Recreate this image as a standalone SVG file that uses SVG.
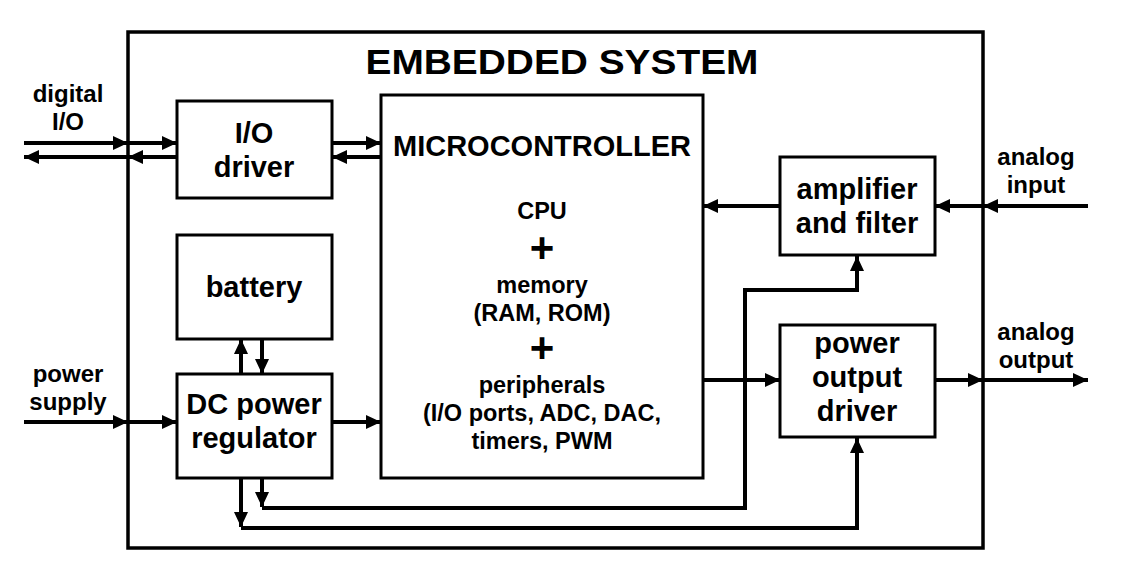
<svg xmlns="http://www.w3.org/2000/svg" width="1123" height="569" viewBox="0 0 1123 569">
<style>
.box{fill:#fff;stroke:#000;stroke-width:3}
.frame{fill:none;stroke:#000;stroke-width:3.5}
.c{fill:none;stroke:#000;stroke-width:4;stroke-linejoin:miter}
.a{marker-end:url(#ah)}
text{font-family:"Liberation Sans",Arial,sans-serif;font-weight:bold;fill:#000;text-anchor:middle}
.n{font-size:29px}
.l{font-size:24px}
.m{font-size:23.5px}
.p{font-size:42px}
</style>
<defs>
<marker id="ah" markerUnits="userSpaceOnUse" markerWidth="16" markerHeight="14" refX="15" refY="7" orient="auto">
<path d="M0,0 L15,7 L0,14 z" fill="#000"/>
</marker>
</defs>
<rect width="1123" height="569" fill="#fff"/>
<g id="frame">
<rect class="frame" x="128" y="32" width="855" height="516"/>
<text x="562" y="74" style="font-size:35px" textLength="393" lengthAdjust="spacingAndGlyphs">EMBEDDED SYSTEM</text>
</g>
<g id="connectors">
<line class="c a" x1="24" y1="143" x2="128" y2="143"/>
<line class="c a" x1="128" y1="143" x2="177" y2="143"/>
<line class="c a" x1="177" y1="157" x2="128" y2="157"/>
<line class="c a" x1="128" y1="157" x2="24" y2="157"/>
<line class="c a" x1="332" y1="143" x2="381" y2="143"/>
<line class="c a" x1="381" y1="157" x2="332" y2="157"/>
<line class="c a" x1="241" y1="374" x2="241" y2="339"/>
<line class="c a" x1="262" y1="339" x2="262" y2="374"/>
<line class="c a" x1="24" y1="422" x2="128" y2="422"/>
<line class="c a" x1="128" y1="422" x2="177" y2="422"/>
<line class="c a" x1="332" y1="422" x2="381" y2="422"/>
<line class="c a" x1="262" y1="478" x2="262" y2="507"/>
<line class="c a" x1="241" y1="478" x2="241" y2="527"/>
<polyline class="c a" points="262,508 745,508 745,290 857,290 857,256"/>
<polyline class="c a" points="241,528 857,528 857,438"/>
<line class="c a" x1="780" y1="206" x2="703" y2="206"/>
<line class="c a" x1="1088" y1="206" x2="983" y2="206"/>
<line class="c a" x1="983" y1="206" x2="935" y2="206"/>
<line class="c a" x1="703" y1="380" x2="780" y2="380"/>
<line class="c a" x1="935" y1="380" x2="983" y2="380"/>
<line class="c a" x1="983" y1="380" x2="1088" y2="380"/>
</g>
<g id="digital-io-label">
<text class="l" x="68" y="102">digital</text>
<text class="l" x="68" y="130">I/O</text>
</g>
<g id="power-supply-label">
<text class="l" x="68" y="382">power</text>
<text class="l" x="68" y="410">supply</text>
</g>
<g id="analog-input-label">
<text class="l" x="1036" y="165">analog</text>
<text class="l" x="1036" y="193">input</text>
</g>
<g id="analog-output-label">
<text class="l" x="1036" y="340">analog</text>
<text class="l" x="1036" y="368">output</text>
</g>
<g id="io-driver">
<rect class="box" x="177" y="101" width="155" height="97"/>
<text class="n" x="254" y="143">I/O</text>
<text class="n" x="254" y="177">driver</text>
</g>
<g id="battery">
<rect class="box" x="177" y="235" width="155" height="104"/>
<text class="n" x="254" y="297">battery</text>
</g>
<g id="dc-power-regulator">
<rect class="box" x="177" y="374" width="155" height="104"/>
<text class="n" x="254" y="414">DC power</text>
<text class="n" x="254" y="448">regulator</text>
</g>
<g id="microcontroller">
<rect class="box" x="381" y="95" width="322" height="383"/>
<text x="542" y="156" style="font-size:29px">MICROCONTROLLER</text>
<text class="m" x="542" y="219">CPU</text>
<text class="p" x="542" y="262">+</text>
<text class="m" x="542" y="293">memory</text>
<text class="m" x="542" y="321">(RAM, ROM)</text>
<text class="p" x="542" y="362">+</text>
<text class="m" x="542" y="393">peripherals</text>
<text class="m" x="542" y="421">(I/O ports, ADC, DAC,</text>
<text class="m" x="542" y="449">timers, PWM</text>
</g>
<g id="amplifier-filter">
<rect class="box" x="780" y="157" width="155" height="98"/>
<text class="n" x="857" y="199">amplifier</text>
<text class="n" x="857" y="233">and filter</text>
</g>
<g id="power-output-driver">
<rect class="box" x="780" y="325" width="155" height="112"/>
<text class="n" x="857" y="353">power</text>
<text class="n" x="857" y="387">output</text>
<text class="n" x="857" y="421">driver</text>
</g>
</svg>
